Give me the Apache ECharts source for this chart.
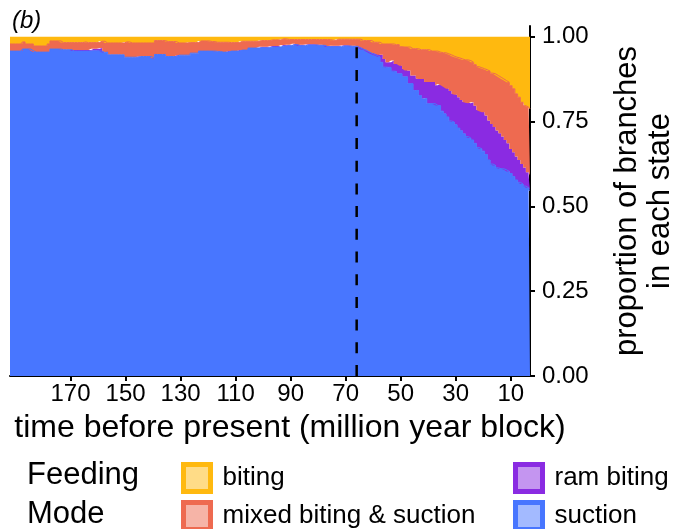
<!DOCTYPE html>
<html>
<head>
<meta charset="utf-8">
<script src="https://cdn.jsdelivr.net/npm/echarts@6/dist/echarts.min.js"></script>
<style>
html,body{margin:0;padding:0;background:#fff;}
#chart{width:675px;height:529px;}
</style>
</head>
<body>
<div id="chart"></div>
<script>
// million-year blocks, oldest (left) to youngest (right)
const years = Array.from({length: 190}, (_, i) => String(192 - i));

const biting = [
  .021,.021,.021,.021,.021,.015,.021,.021,.021,.027,
  .027,.027,.027,.027,.021,.012,.012,.012,.012,.017,
  .017,.017,.017,.017,.017,.017,.017,.015,.017,.017,
  .017,.017,.017,.013,.013,.018,.018,.018,.018,.018,
  .018,.018,.015,.015,.018,.018,.018,.018,.018,.018,
  .018,.018,.018,.011,.011,.011,.011,.014,.014,.014,
  .014,.018,.018,.018,.018,.017,.017,.017,.017,.012,
  .012,.012,.012,.014,.014,.016,.016,.016,.016,.016,
  .017,.017,.017,.017,.013,.013,.013,.013,.013,.013,
  .013,.011,.011,.011,.011,.009,.009,.009,.009,.006,
  .006,.008,.008,.008,.008,.008,.008,.008,.008,.008,
  .008,.008,.008,.008,.008,.008,.008,.010,.010,.007,
  .007,.007,.007,.007,.007,.007,.007,.007,.011,.011,
  .011,.011,.016,.016,.016,.021,.021,.021,.021,.021,
  .023,.023,.029,.030,.030,.030,.035,.035,.035,.038,
  .038,.038,.038,.042,.042,.042,.045,.047,.047,.050,
  .053,.057,.060,.062,.065,.068,.068,.070,.075,.082,
  .088,.091,.094,.097,.101,.107,.109,.114,.119,.124,
  .129,.134,.144,.153,.168,.178,.193,.203,.207,.212
];
const mixedBitingSuction = [
  .021,.021,.021,.021,.021,.021,.015,.015,.020,.018,
  .018,.018,.018,.018,.024,.024,.024,.024,.024,.021,
  .021,.021,.021,.022,.022,.022,.022,.024,.022,.022,
  .018,.018,.018,.020,.030,.027,.035,.035,.035,.035,
  .035,.035,.045,.045,.042,.042,.042,.040,.040,.040,
  .040,.040,.045,.041,.041,.041,.041,.044,.044,.044,
  .044,.036,.036,.036,.036,.037,.031,.031,.031,.030,
  .030,.030,.030,.028,.028,.027,.027,.029,.029,.029,
  .025,.025,.025,.025,.026,.026,.026,.020,.020,.020,
  .020,.018,.018,.018,.018,.018,.018,.018,.018,.018,
  .018,.015,.015,.012,.012,.015,.015,.015,.014,.014,
  .014,.014,.015,.015,.015,.019,.019,.016,.016,.019,
  .019,.018,.018,.018,.019,.019,.019,.024,.019,.024,
  .029,.033,.032,.032,.037,.032,.044,.054,.054,.049,
  .057,.057,.056,.064,.069,.069,.079,.079,.088,.086,
  .086,.095,.095,.091,.091,.101,.094,.096,.101,.103,
  .107,.111,.111,.116,.121,.124,.126,.126,.118,.121,
  .128,.128,.128,.135,.146,.150,.157,.162,.165,.170,
  .175,.180,.187,.187,.185,.185,.182,.182,.192,.197
];
const ramBiting = [
  0,0,0,0,0,0,0,0,0,0,
  0,0,0,0,0,0,0,0,0,0,
  0,0,0,.003,.003,.003,.003,.003,.003,.003,
  .006,.006,.006,.009,.003,0,0,0,0,0,
  0,0,0,0,0,0,0,0,0,0,
  0,0,0,0,0,0,0,0,0,0,
  0,0,0,0,0,0,0,0,0,0,
  0,0,0,0,0,0,0,0,0,0,
  0,0,0,0,0,0,0,0,0,0,
  0,.003,.003,.003,.003,.003,.003,.003,.003,.003,
  .003,.003,.003,.003,.003,.003,.003,.003,.002,.002,
  .002,.002,.002,.002,.002,.002,.002,.003,.003,.003,
  .003,.002,.002,.002,.002,.002,.002,.002,.007,.004,
  .004,.004,.004,.007,.006,.022,.024,.015,.015,.031,
  .022,.029,.024,.024,.019,.039,.024,.044,.035,.049,
  .059,.049,.064,.064,.064,.059,.064,.076,.079,.083,
  .088,.083,.088,.091,.091,.094,.100,.102,.111,.111,
  .110,.111,.115,.115,.116,.118,.113,.110,.105,.095,
  .088,.083,.072,.072,.069,.066,.059,.055,.046,.043
];
const suction = [
  .958,.958,.958,.958,.958,.964,.964,.964,.959,.955,
  .955,.955,.955,.955,.955,.964,.964,.964,.964,.962,
  .962,.962,.962,.958,.958,.958,.958,.958,.958,.958,
  .959,.959,.959,.958,.954,.955,.947,.947,.947,.947,
  .947,.947,.940,.940,.940,.940,.940,.942,.942,.942,
  .942,.942,.937,.948,.948,.948,.948,.942,.942,.942,
  .942,.946,.946,.946,.946,.946,.952,.952,.952,.958,
  .958,.958,.958,.958,.958,.957,.957,.955,.955,.955,
  .958,.958,.958,.958,.961,.961,.961,.967,.967,.967,
  .967,.968,.968,.968,.968,.970,.970,.970,.970,.973,
  .973,.974,.974,.977,.977,.974,.974,.974,.976,.976,
  .976,.976,.975,.975,.975,.971,.971,.971,.971,.971,
  .971,.973,.973,.973,.972,.972,.972,.967,.963,.961,
  .956,.952,.948,.945,.941,.925,.911,.910,.910,.899,
  .898,.891,.891,.882,.882,.862,.862,.842,.842,.827,
  .817,.818,.803,.803,.803,.798,.797,.781,.773,.764,
  .752,.749,.741,.731,.723,.714,.706,.702,.696,.686,
  .674,.670,.663,.653,.637,.625,.621,.614,.611,.611,
  .608,.603,.597,.588,.578,.571,.566,.560,.555,.548
];

const xTickLabels = ['170', '150', '130', '110', '90', '70', '50', '30', '10'];
const yTickLabels = [0, 0.25, 0.5, 0.75, 1];
const kpgBoundary = '66';

const COLORS = {
  suction: '#4876FF', ram: '#8A2BE2', mixed: '#EE6A50', biting: '#FFB90F'
};
const LIGHT = {
  suction: '#A3BAFF', ram: '#C495F0', mixed: '#F6B4A7', biting: '#FFDC87'
};
const FONT = "'Liberation Sans', Arial, Helvetica, sans-serif";

function areaSeries(name, vals, color, edge) {
  return {
    name: name,
    type: 'line',
    stack: 'total',
    step: 'middle',
    symbol: 'none',
    silent: true,
    lineStyle: edge ? { width: 1, color: color } : { width: 0, opacity: 0 },
    itemStyle: { color: color },
    areaStyle: { color: color, opacity: 1 },
    data: vals
  };
}

const chart = echarts.init(document.getElementById('chart'), null, { renderer: 'canvas' });

const legendText = { fontSize: 26, lineHeight: 27, color: '#000', fontFamily: FONT, padding: [0, 0, 0, 7] };
const showTick = (idx, val) => xTickLabels.indexOf(String(val)) >= 0;

chart.setOption({
  animation: false,
  textStyle: { fontFamily: FONT },
  title: {
    text: '(b)', left: 12, top: 9, padding: 0,
    textStyle: { fontStyle: 'italic', fontWeight: 'normal', fontSize: 24, color: '#000', fontFamily: FONT }
  },
  grid: { left: 10, right: 145, top: 26, bottom: 153, containLabel: false, outerBoundsMode: 'none' },
  xAxis: {
    type: 'category', data: years, boundaryGap: false,
    splitLine: { show: false },
    axisLine: { show: true, onZero: false, lineStyle: { color: '#000', width: 2 } },
    axisTick: { show: true, interval: showTick, length: 5, lineStyle: { color: '#000', width: 2 } },
    axisLabel: { interval: showTick, fontSize: 24, color: '#000', margin: 6, fontFamily: FONT },
    name: 'time before present (million year block)',
    nameLocation: 'middle', nameGap: 36,
    nameTextStyle: { fontSize: 32, color: '#000', fontFamily: FONT, padding: [0, 0, 0, 40] }
  },
  yAxis: {
    type: 'value', position: 'right', min: 0, max: 1.032,
    splitLine: { show: false },
    axisLine: { show: true, onZero: false, lineStyle: { color: '#000', width: 2 } },
    axisTick: { show: true, customValues: yTickLabels, length: 5, lineStyle: { color: '#000', width: 2 } },
    axisLabel: { customValues: yTickLabels, fontSize: 24, color: '#000', margin: 12, fontFamily: FONT,
      formatter: v => Number(v).toFixed(2) },
    name: 'proportion of branches\nin each state',
    nameLocation: 'middle', nameRotate: 90, nameGap: 81,
    nameTextStyle: { fontSize: 31, lineHeight: 33, color: '#000', fontFamily: FONT }
  },
  legend: [
    {
      orient: 'vertical', left: 181, top: 462, height: 120, padding: 0, itemGap: 6,
      itemWidth: 27, itemHeight: 27, icon: 'rect', selectedMode: false,
      textStyle: legendText,
      data: [
        { name: 'biting', itemStyle: { color: LIGHT.biting, borderColor: COLORS.biting, borderWidth: 5 } },
        { name: 'mixed biting & suction', itemStyle: { color: LIGHT.mixed, borderColor: COLORS.mixed, borderWidth: 5 } }
      ]
    },
    {
      orient: 'vertical', left: 513, top: 462, height: 120, padding: 0, itemGap: 6,
      itemWidth: 27, itemHeight: 27, icon: 'rect', selectedMode: false,
      textStyle: legendText,
      data: [
        { name: 'ram biting', itemStyle: { color: LIGHT.ram, borderColor: COLORS.ram, borderWidth: 5 } },
        { name: 'suction', itemStyle: { color: LIGHT.suction, borderColor: COLORS.suction, borderWidth: 5 } }
      ]
    }
  ],
  graphic: [
    { type: 'text', x: 27, y: 475, style: { text: 'Feeding', fontSize: 31, fontFamily: FONT, fill: '#000', verticalAlign: 'middle' } },
    { type: 'text', x: 27, y: 514, style: { text: 'Mode', fontSize: 31, fontFamily: FONT, fill: '#000', verticalAlign: 'middle' } }
  ],
  series: [
    areaSeries('suction', suction, COLORS.suction, true),
    areaSeries('ram biting', ramBiting, COLORS.ram, false),
    areaSeries('mixed biting & suction', mixedBitingSuction, COLORS.mixed, true),
    areaSeries('biting', biting, COLORS.biting, false),
    {
      name: 'K-Pg', type: 'line', symbol: 'none', silent: true, z: 5,
      lineStyle: { color: '#000', width: 2.5, type: [11, 11.7] },
      data: [[kpgBoundary, 0], [kpgBoundary, 1]]
    }
  ]
});
</script>
</body>
</html>
